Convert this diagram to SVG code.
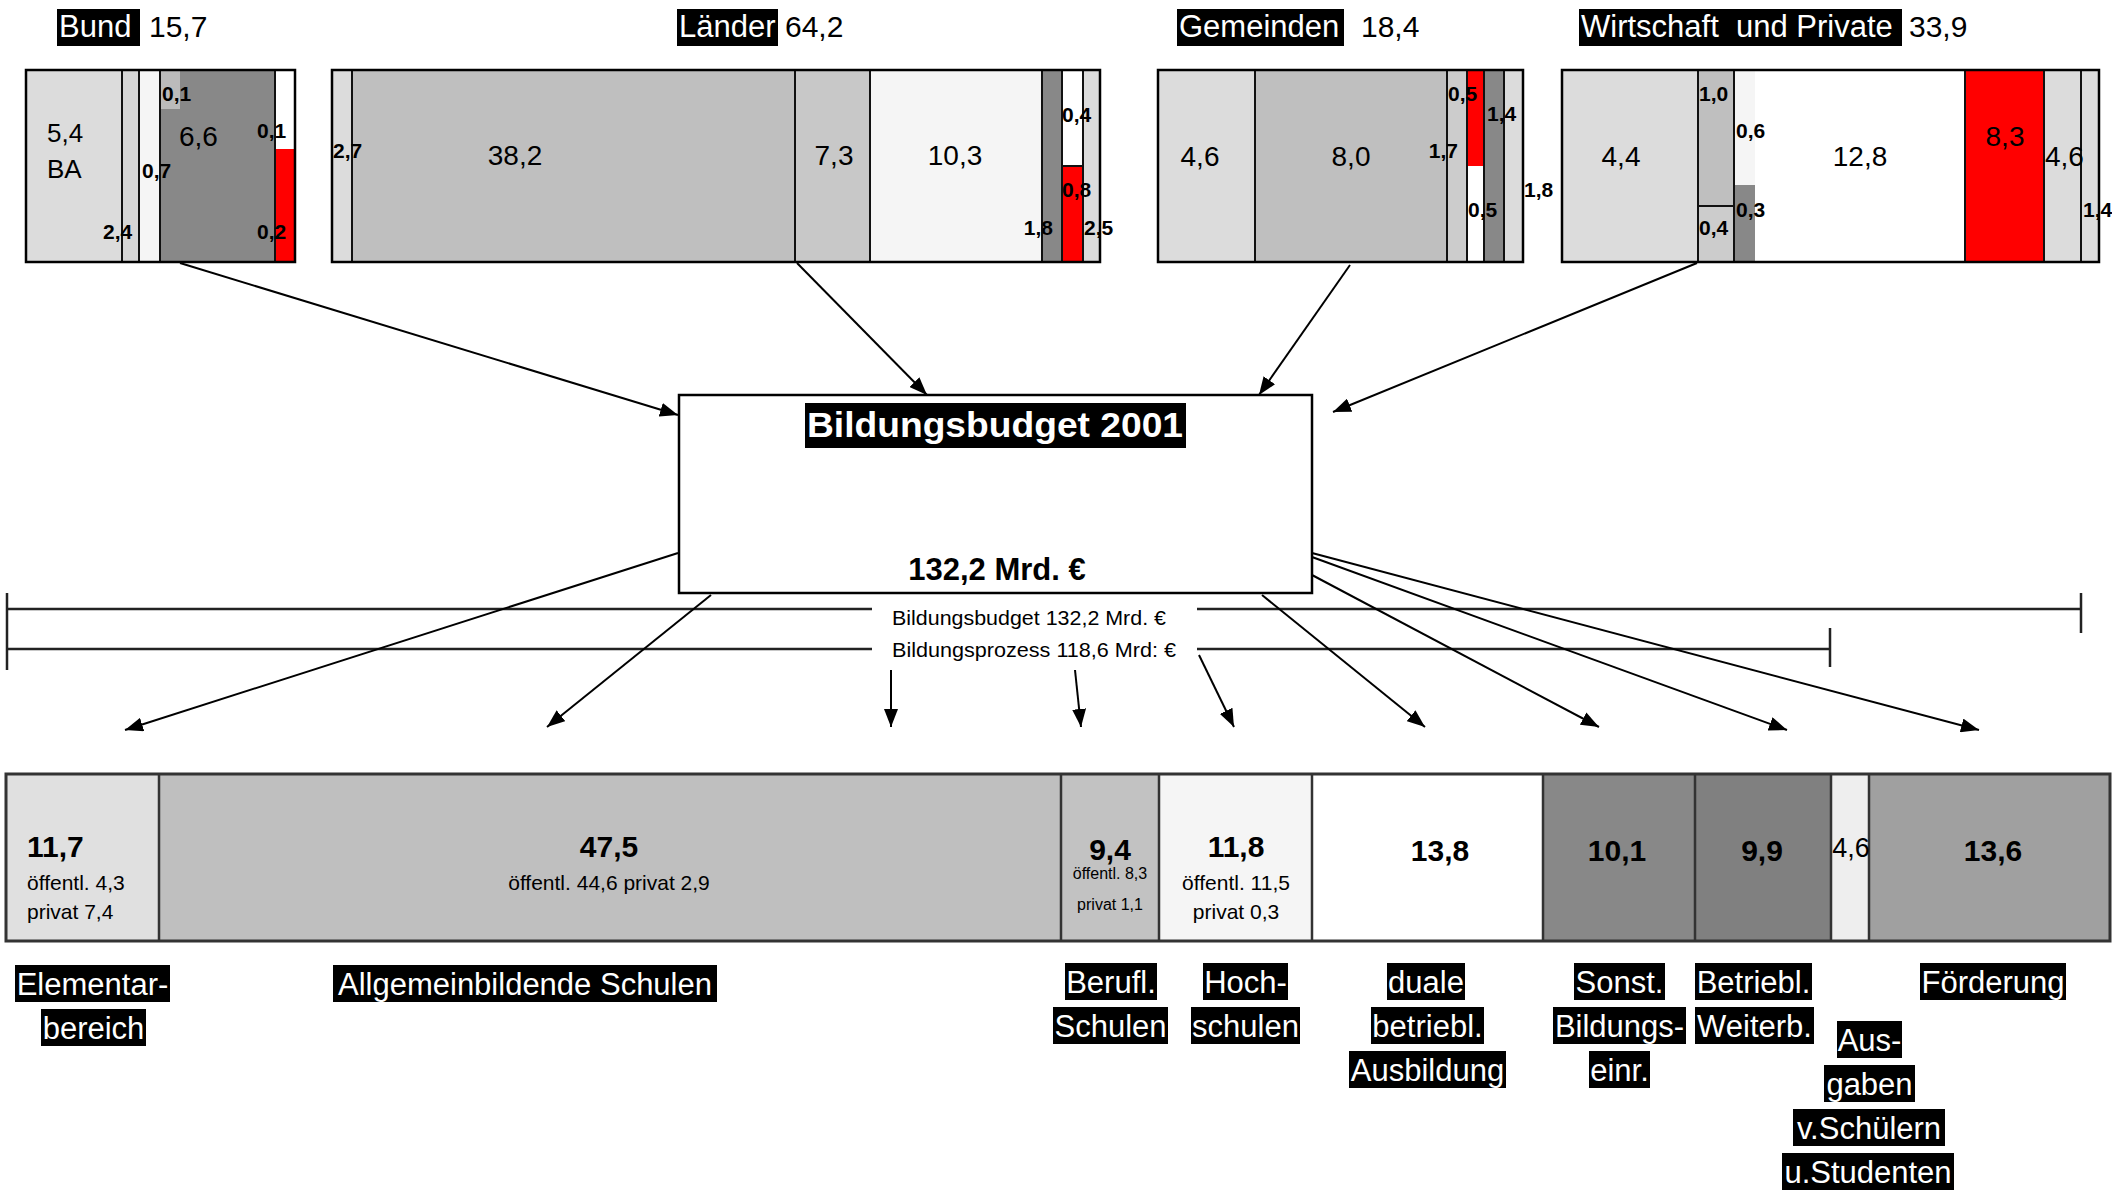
<svg xmlns="http://www.w3.org/2000/svg" width="2112" height="1193" viewBox="0 0 2112 1193">
<style>
text{font-family:"Liberation Sans",Arial,sans-serif;fill:#000}
.ttl{font-size:31px;fill:#fff}
.tv{font-size:30px}
.n{font-size:28px}
.b{font-size:21px;font-weight:bold}
.sep{stroke:#111;stroke-width:2}
.ob{fill:none;stroke:#000;stroke-width:2.5}
.con{stroke:#000;stroke-width:2;fill:none;marker-end:url(#ah)}
.rng{stroke:#222;stroke-width:2.5;fill:none}
.rl{font-size:21px}
.bn{font-size:30px;font-weight:bold}
.bs{font-size:21px}
.bx{font-size:16px}
.lb{fill:#000}
.lt{font-size:31px;fill:#fff;text-anchor:middle}
.mid{text-anchor:middle}
.end{text-anchor:end}
</style>
<defs>
<marker id="ah" viewBox="0 0 18 14" markerWidth="18" markerHeight="14" markerUnits="userSpaceOnUse" refX="18" refY="7" orient="auto">
<path d="M0,0 L18,7 L0,14 z" fill="#000"/>
</marker>
</defs>
<rect width="2112" height="1193" fill="#fff"/>

<g id="bund">
<rect x="57" y="9" width="83" height="37" fill="#000"/>
<text class="ttl" x="59" y="37">Bund</text>
<text class="tv" x="149" y="37">15,7</text>
<rect x="26" y="70" width="96" height="192" fill="#dcdcdc"/>
<rect x="122" y="70" width="17" height="192" fill="#d6d6d6"/>
<rect x="139" y="70" width="21" height="192" fill="#f5f5f5"/>
<rect x="160" y="70" width="115" height="192" fill="#888"/>
<rect x="160" y="70" width="20" height="39" fill="#bbb"/>
<rect x="275" y="70" width="20" height="79" fill="#fff"/>
<rect x="275" y="149" width="20" height="113" fill="#f00"/>
<line class="sep" x1="122" y1="70" x2="122" y2="262"/>
<line class="sep" x1="139" y1="70" x2="139" y2="262"/>
<line class="sep" x1="160" y1="70" x2="160" y2="262"/>
<line class="sep" x1="275" y1="70" x2="275" y2="262"/>
<rect class="ob" x="26" y="70" width="269" height="192"/>
<text style="font-size:26px" x="47" y="142">5,4</text>
<text style="font-size:26px" x="47" y="178">BA</text>
<text class="b" x="103" y="239">2,4</text>
<text class="b" x="142" y="178">0,7</text>
<text class="b" x="162" y="101">0,1</text>
<text class="n" x="179" y="146">6,6</text>
<text class="b" x="257" y="138">0,1</text>
<text class="b" x="257" y="239">0,2</text>
</g>

<g id="laender">
<rect x="677" y="9" width="101" height="37" fill="#000"/>
<text class="ttl" x="679" y="37">Länder</text>
<text class="tv" x="785" y="37">64,2</text>
<rect x="332" y="70" width="20" height="192" fill="#dcdcdc"/>
<rect x="352" y="70" width="443" height="192" fill="#bfbfbf"/>
<rect x="795" y="70" width="75" height="192" fill="#c8c8c8"/>
<rect x="870" y="70" width="172" height="192" fill="#f5f5f5"/>
<rect x="1042" y="70" width="20" height="192" fill="#888"/>
<rect x="1062" y="70" width="21" height="96" fill="#fff"/>
<rect x="1062" y="166" width="21" height="96" fill="#f00"/>
<rect x="1083" y="70" width="17" height="192" fill="#dcdcdc"/>
<line class="sep" x1="352" y1="70" x2="352" y2="262"/>
<line class="sep" x1="795" y1="70" x2="795" y2="262"/>
<line class="sep" x1="870" y1="70" x2="870" y2="262"/>
<line class="sep" x1="1042" y1="70" x2="1042" y2="262"/>
<line class="sep" x1="1062" y1="70" x2="1062" y2="262"/>
<line class="sep" x1="1083" y1="70" x2="1083" y2="262"/>
<line class="sep" x1="1062" y1="166" x2="1083" y2="166"/>
<rect class="ob" x="332" y="70" width="768" height="192"/>
<text class="b" x="333" y="158">2,7</text>
<text class="n mid" x="515" y="165">38,2</text>
<text class="n mid" x="834" y="165">7,3</text>
<text class="n mid" x="955" y="165">10,3</text>
<text class="b end" x="1053" y="235">1,8</text>
<text class="b" x="1062" y="122">0,4</text>
<text class="b" x="1062" y="197">0,8</text>
<text class="b" x="1084" y="235">2,5</text>
</g>

<g id="gemeinden">
<rect x="1177" y="9" width="167" height="37" fill="#000"/>
<text class="ttl" x="1179" y="37">Gemeinden</text>
<text class="tv" x="1361" y="37">18,4</text>
<rect x="1158" y="70" width="97" height="192" fill="#dcdcdc"/>
<rect x="1255" y="70" width="192" height="192" fill="#bfbfbf"/>
<rect x="1447" y="70" width="20" height="192" fill="#ccc"/>
<rect x="1467" y="70" width="17" height="96" fill="#f00"/>
<rect x="1467" y="166" width="17" height="96" fill="#fff"/>
<rect x="1484" y="70" width="20" height="192" fill="#888"/>
<rect x="1504" y="70" width="19" height="192" fill="#dcdcdc"/>
<line class="sep" x1="1255" y1="70" x2="1255" y2="262"/>
<line class="sep" x1="1447" y1="70" x2="1447" y2="262"/>
<line class="sep" x1="1467" y1="70" x2="1467" y2="262"/>
<line class="sep" x1="1484" y1="70" x2="1484" y2="262"/>
<line class="sep" x1="1504" y1="70" x2="1504" y2="262"/>
<rect class="ob" x="1158" y="70" width="365" height="192"/>
<text class="n mid" x="1200" y="166">4,6</text>
<text class="n mid" x="1351" y="166">8,0</text>
<text class="b end" x="1458" y="158">1,7</text>
<text class="b" x="1448" y="101">0,5</text>
<text class="b" x="1487" y="121">1,4</text>
<text class="b" x="1468" y="217">0,5</text>
<text class="b" x="1524" y="197">1,8</text>
</g>

<g id="wirtschaft">
<rect x="1579" y="9" width="323" height="37" fill="#000"/>
<text class="ttl" x="1581" y="37">Wirtschaft&#160; und Private</text>
<text class="tv" x="1909" y="37">33,9</text>
<rect x="1562" y="70" width="136" height="192" fill="#dcdcdc"/>
<rect x="1698" y="70" width="36" height="136" fill="#bfbfbf"/>
<rect x="1698" y="206" width="36" height="56" fill="#ccc"/>
<rect x="1734" y="70" width="21" height="115" fill="#f5f5f5"/>
<rect x="1734" y="185" width="21" height="77" fill="#888"/>
<rect x="1755" y="70" width="210" height="192" fill="#fff"/>
<rect x="1965" y="70" width="79" height="192" fill="#f00"/>
<rect x="2044" y="70" width="37" height="192" fill="#dcdcdc"/>
<rect x="2081" y="70" width="18" height="192" fill="#dcdcdc"/>
<line class="sep" x1="1698" y1="70" x2="1698" y2="262"/>
<line class="sep" x1="1734" y1="70" x2="1734" y2="262"/>
<line class="sep" x1="1965" y1="70" x2="1965" y2="262"/>
<line class="sep" x1="2044" y1="70" x2="2044" y2="262"/>
<line class="sep" x1="2081" y1="70" x2="2081" y2="262"/>
<line class="sep" x1="1698" y1="206" x2="1734" y2="206"/>
<rect class="ob" x="1562" y="70" width="537" height="192"/>
<text class="n mid" x="1621" y="166">4,4</text>
<text class="b" x="1699" y="101">1,0</text>
<text class="b" x="1699" y="235">0,4</text>
<text class="b" x="1736" y="138">0,6</text>
<text class="b" x="1736" y="217">0,3</text>
<text class="n mid" x="1860" y="166">12,8</text>
<text class="n mid" x="2005" y="146">8,3</text>
<text class="n" x="2045" y="166">4,6</text>
<text class="b" x="2083" y="217">1,4</text>
</g>

<g id="budget">
<rect x="679" y="395" width="633" height="198" fill="#fff" stroke="#000" stroke-width="2.5"/>
<rect x="805" y="403" width="381" height="45" fill="#000"/>
<text x="807" y="437" textLength="376" lengthAdjust="spacingAndGlyphs" style="font-size:35px;font-weight:bold;fill:#fff">Bildungsbudget 2001</text>
<text class="mid" x="997" y="580" style="font-size:31px;font-weight:bold">132,2 Mrd. €</text>
</g>

<g id="ranges">
<path class="rng" d="M7,609 H872 M1197,609 H2081 M7,649 H872 M1197,649 H1830 M7,593 V670 M2081,593 V633 M1830,628 V667"/>
<text class="rl" x="892" y="625" textLength="274" lengthAdjust="spacingAndGlyphs">Bildungsbudget 132,2 Mrd. €</text>
<text class="rl" x="892" y="657" textLength="284" lengthAdjust="spacingAndGlyphs">Bildungsprozess 118,6 Mrd: €</text>
</g>

<g id="connectors">
<line class="con" x1="180" y1="263" x2="678" y2="415"/>
<line class="con" x1="797" y1="263" x2="927" y2="395"/>
<line class="con" x1="1350" y1="265" x2="1259" y2="395"/>
<line class="con" x1="1697" y1="263" x2="1333" y2="412"/>
<line class="con" x1="678" y1="553" x2="125" y2="730"/>
<line class="con" x1="711" y1="595" x2="547" y2="727"/>
<line class="con" x1="891" y1="670" x2="891" y2="727"/>
<line class="con" x1="1075" y1="670" x2="1081" y2="727"/>
<line class="con" x1="1199" y1="655" x2="1234" y2="727"/>
<line class="con" x1="1262" y1="595" x2="1425" y2="727"/>
<line class="con" x1="1312" y1="575" x2="1599" y2="727"/>
<line class="con" x1="1312" y1="557" x2="1787" y2="730"/>
<line class="con" x1="1312" y1="553" x2="1979" y2="730"/>
</g>

<g id="bar">
<rect x="6" y="774" width="153" height="167" fill="#e0e0e0"/>
<rect x="159" y="774" width="902" height="167" fill="#bfbfbf"/>
<rect x="1061" y="774" width="98" height="167" fill="#c2c2c2"/>
<rect x="1159" y="774" width="153" height="167" fill="#f5f5f5"/>
<rect x="1312" y="774" width="231" height="167" fill="#fff"/>
<rect x="1543" y="774" width="152" height="167" fill="#888"/>
<rect x="1695" y="774" width="136" height="167" fill="#808080"/>
<rect x="1831" y="774" width="38" height="167" fill="#eee"/>
<rect x="1869" y="774" width="241" height="167" fill="#a0a0a0"/>
<g stroke="#333" stroke-width="2.5">
<line x1="159" y1="774" x2="159" y2="941"/>
<line x1="1061" y1="774" x2="1061" y2="941"/>
<line x1="1159" y1="774" x2="1159" y2="941"/>
<line x1="1312" y1="774" x2="1312" y2="941"/>
<line x1="1543" y1="774" x2="1543" y2="941"/>
<line x1="1695" y1="774" x2="1695" y2="941"/>
<line x1="1831" y1="774" x2="1831" y2="941"/>
<line x1="1869" y1="774" x2="1869" y2="941"/>
</g>
<rect x="6" y="774" width="2104" height="167" fill="none" stroke="#333" stroke-width="3"/>
<text class="bn" x="27" y="857">11,7</text>
<text class="bs" x="27" y="890">öffentl. 4,3</text>
<text class="bs" x="27" y="919">privat 7,4</text>
<text class="bn mid" x="609" y="857">47,5</text>
<text class="bs mid" x="609" y="890">öffentl. 44,6 privat 2,9</text>
<text class="bn mid" x="1110" y="860">9,4</text>
<text class="bx mid" x="1110" y="879">öffentl. 8,3</text>
<text class="bx mid" x="1110" y="910">privat 1,1</text>
<text class="bn mid" x="1236" y="857">11,8</text>
<text class="bs mid" x="1236" y="890">öffentl. 11,5</text>
<text class="bs mid" x="1236" y="919">privat 0,3</text>
<text class="bn mid" x="1440" y="861">13,8</text>
<text class="bn mid" x="1617" y="861">10,1</text>
<text class="bn mid" x="1762" y="861">9,9</text>
<text class="mid" x="1851" y="857" style="font-size:27px">4,6</text>
<text class="bn mid" x="1993" y="861">13,6</text>
</g>

<g id="labels">
<rect class="lb" x="15" y="965" width="155" height="37"/><text class="lt" x="92.5" y="995">Elementar-</text>
<rect class="lb" x="41" y="1009" width="105" height="37"/><text class="lt" x="93.5" y="1039">bereich</text>
<rect class="lb" x="333" y="965" width="384" height="37"/><text class="lt" x="525" y="995">Allgemeinbildende Schulen</text>
<rect class="lb" x="1065" y="963" width="92" height="37"/><text class="lt" x="1111" y="993">Berufl.</text>
<rect class="lb" x="1053" y="1007" width="115" height="37"/><text class="lt" x="1110.5" y="1037">Schulen</text>
<rect class="lb" x="1203" y="963" width="85" height="37"/><text class="lt" x="1245.5" y="993">Hoch-</text>
<rect class="lb" x="1191" y="1007" width="109" height="37"/><text class="lt" x="1245.5" y="1037">schulen</text>
<rect class="lb" x="1387" y="963" width="78" height="37"/><text class="lt" x="1426" y="993">duale</text>
<rect class="lb" x="1371" y="1007" width="113" height="37"/><text class="lt" x="1427.5" y="1037">betriebl.</text>
<rect class="lb" x="1349" y="1051" width="157" height="37"/><text class="lt" x="1427.5" y="1081">Ausbildung</text>
<rect class="lb" x="1574" y="963" width="91" height="37"/><text class="lt" x="1619.5" y="993">Sonst.</text>
<rect class="lb" x="1553" y="1007" width="133" height="37"/><text class="lt" x="1619.5" y="1037">Bildungs-</text>
<rect class="lb" x="1589" y="1051" width="61" height="37"/><text class="lt" x="1619.5" y="1081">einr.</text>
<rect class="lb" x="1695" y="963" width="117" height="37"/><text class="lt" x="1753.5" y="993">Betriebl.</text>
<rect class="lb" x="1695" y="1007" width="119" height="37"/><text class="lt" x="1754.5" y="1037">Weiterb.</text>
<rect class="lb" x="1920" y="963" width="146" height="37"/><text class="lt" x="1993" y="993">Förderung</text>
<rect class="lb" x="1837" y="1021" width="65" height="37"/><text class="lt" x="1869.5" y="1051">Aus-</text>
<rect class="lb" x="1824" y="1065" width="91" height="37"/><text class="lt" x="1869.5" y="1095">gaben</text>
<rect class="lb" x="1793" y="1109" width="152" height="37"/><text class="lt" x="1869" y="1139">v.Schülern</text>
<rect class="lb" x="1782" y="1153" width="172" height="37"/><text class="lt" x="1868" y="1183">u.Studenten</text>
</g>
</svg>
